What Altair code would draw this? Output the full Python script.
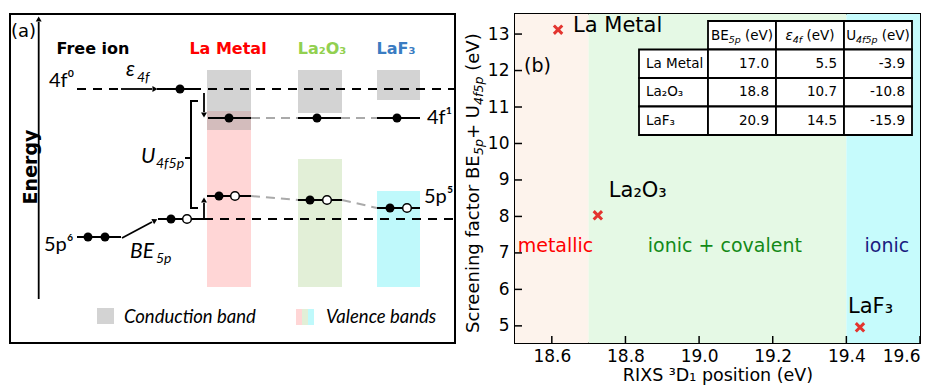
import altair as alt
import pandas as pd

# ---------------- data ----------------
materials = ["La Metal", "La₂O₃", "LaF₃"]
rixs_3d1 = [18.617, 18.725, 19.437]          # RIXS 3D1 position (eV)
screening = [13.12, 8.03, 4.96]              # BE5p + U4f5p (eV)
be_5p = ["17.0", "18.8", "20.9"]
eps_4f = ["5.5", "10.7", "14.5"]
u_4f5p = ["-3.9", "-10.8", "-15.9"]
regions = ["metallic", "ionic + covalent", "ionic"]
region_lo = [18.5, 18.7, 19.4]
region_hi = [18.7, 19.4, 19.6]
x_ticks = [18.6, 18.8, 19.0, 19.2, 19.4, 19.6]
y_ticks = [5, 6, 7, 8, 9, 10, 11, 12, 13]

# ---------------- style / layout ----------------
region_fill = ["#fdf3ec", "#e5f9e5", "#c6fbfc"]
region_text_color = ["#ff0000", "#138a17", "#1a1a80"]
region_text_x = [18.61, 19.07, 19.51]
region_text_y = [7.2, 7.2, 7.2]
label_offsets = [(15, -4, "left"), (11, -24, "left"), (-12, -20, "left")]
MARK_RED = "#e3342f"
DV = "DejaVu Sans"

# DejaVu Sans advance widths (em)
W = {' ': 0.318, '(': 0.390, ')': 0.390, '+': 0.838, '-': 0.361, '.': 0.318,
     'B': 0.686, 'E': 0.632, 'S': 0.635, 'U': 0.732, 'V': 0.684,
     'a': 0.613, 'c': 0.550, 'e': 0.615, 'f': 0.352, 'g': 0.635, 'i': 0.278,
     'n': 0.634, 'o': 0.612, 'p': 0.635, 'r': 0.411, 't': 0.392, 'ε': 0.53}
for d in "0123456789":
    W[d] = 0.636


def tw(s, size):
    return sum(W.get(ch, 0.6) for ch in s) * size


def layout_pieces(parts):
    """parts: (text, size, italic, shift) -> list with running offset"""
    out, pos = [], 0.0
    for text, size, italic, shift in parts:
        lead = len(text) - len(text.lstrip(' '))
        pos += lead * W[' '] * size
        t = text.strip(' ')
        out.append((t, size, italic, shift, pos))
        pos += tw(t, size)
    return out, pos


def txt(s, x, y, **kw):
    return alt.Chart(pd.DataFrame({"t": [s]})).mark_text(**kw).encode(
        text="t:N", x=alt.value(x), y=alt.value(y))


def box(x0, x1, y0, y1, **kw):
    return alt.Chart(pd.DataFrame({"d": [0]})).mark_rect(**kw).encode(
        x=alt.value(x0), x2=alt.value(x1), y=alt.value(y0), y2=alt.value(y1))


# =============== right panel ===============
RW, RH = 405, 329
xs = alt.Scale(domain=[18.5, 19.6], nice=False, zero=False)
ys = alt.Scale(domain=[4.53, 13.55], nice=False, zero=False)
xaxis = alt.Axis(values=x_ticks, format=".1f", title="RIXS ³D₁ position (eV)",
                 domain=False, ticks=False, grid=False, labelFontSize=17, labelFont=DV,
                 labelColor="black", labelPadding=5, titleFontSize=17.5, titleFont=DV,
                 titleFontWeight="normal", titleColor="black", titlePadding=2)
yaxis = alt.Axis(values=y_ticks, title="", domain=False, ticks=False, grid=False,
                 labelFontSize=17, labelFont=DV, labelColor="black", labelPadding=6)


def XF(f):
    return alt.X(f, type="quantitative", scale=xs, axis=xaxis)


def YF(f):
    return alt.Y(f, type="quantitative", scale=ys, axis=yaxis)


reg_df = pd.DataFrame({"lo": region_lo, "hi": region_hi, "fill": region_fill,
                       "name": regions, "tx": region_text_x, "ty": region_text_y,
                       "tc": region_text_color})
bg = alt.Chart(reg_df).mark_rect().encode(
    x=XF("lo"), x2="hi", y=alt.value(0), y2=alt.value(RH),
    color=alt.Color("fill:N", scale=None))

reg_txt = alt.Chart(reg_df).mark_text(fontSize=19, font=DV, baseline="middle").encode(
    x=XF("tx"), y=YF("ty"), text="name:N", color=alt.Color("tc:N", scale=None))

pts_df = pd.DataFrame({"x": rixs_3d1, "s": screening, "m": materials})
pts = alt.Chart(pts_df).mark_point(
    shape="M-1,-1L1,1M-1,1L1,-1", filled=False, color=MARK_RED,
    strokeWidth=3, size=70, opacity=1).encode(x=XF("x"), y=YF("s"))

pt_labels = []
for i, (dx, dy, al) in enumerate(label_offsets):
    pt_labels.append(alt.Chart(pts_df.iloc[[i]]).mark_text(
        dx=dx, dy=dy, align=al, baseline="middle", fontSize=21, font=DV,
        color="black").encode(x=XF("x"), y=YF("s"), text="m:N"))

xt = alt.Chart(pd.DataFrame({"t": x_ticks})).mark_rule(color="black", strokeWidth=1.5).encode(
    x=XF("t"), y=alt.value(RH), y2=alt.value(RH - 7))
yt = alt.Chart(pd.DataFrame({"t": y_ticks})).mark_rule(color="black", strokeWidth=1.5).encode(
    y=YF("t"), x=alt.value(0), x2=alt.value(7))

# table
col_x = [124, 193, 261, 329, 397]
row_y = [7, 35.5, 64, 92.5, 121]
table_layers = []
for r in range(4):
    for c in range(4):
        if r == 0 and c == 0:
            continue
        table_layers.append(box(col_x[c], col_x[c + 1], row_y[r], row_y[r + 1],
                                fill="white", stroke="black", strokeWidth=1.8))
TF = 13.5
TS = 9.5
for r in range(3):
    yc = (row_y[r + 1] + row_y[r + 2]) / 2
    table_layers.append(txt(materials[r], col_x[0] + 7, yc, align="left",
                            baseline="middle", fontSize=TF, font=DV, color="black"))
    for c, vals in enumerate([be_5p, eps_4f, u_4f5p]):
        table_layers.append(txt(vals[r], col_x[c + 2] - 7, yc, align="right",
                                baseline="middle", fontSize=TF, font=DV, color="black"))
headers = [
    [("BE", TF, False, 0), ("5p", TS, True, 3), (" (eV)", TF, False, 0)],
    [("ε", TF, True, 0), ("4f", TS, True, 3), (" (eV)", TF, False, 0)],
    [("U", TF, False, 0), ("4f5p", TS, True, 3), (" (eV)", TF, False, 0)],
]
hb = (row_y[0] + row_y[1]) / 2 + 0.36 * TF
for c, parts in enumerate(headers):
    pcs, total = layout_pieces(parts)
    x0 = (col_x[c + 1] + col_x[c + 2]) / 2 - total / 2
    for t, size, it, shift, pos in pcs:
        table_layers.append(txt(t, x0 + pos, hb + shift, align="left",
                                baseline="alphabetic", fontSize=size, font=DV,
                                fontStyle="italic" if it else "normal", color="black"))

# y title built from pieces (rotated)
ytitle_parts = [("Screening factor BE", 18, False, 0), ("5p", 12.6, True, 4),
                ("+ U", 18, False, 0), ("4f5p", 12.6, True, 4), (" (eV)", 18, False, 0)]
pcs, total = layout_pieces(ytitle_parts)
ytitle_layers = []
for t, size, it, shift, pos in pcs:
    ytitle_layers.append(txt(t, -36 + shift, 319 - pos, align="left", baseline="alphabetic",
                             angle=270, fontSize=size, font=DV,
                             fontStyle="italic" if it else "normal", color="black"))

b_label = txt("(b)", 9, 52, align="left", baseline="middle", fontSize=19, font=DV, color="black")

right = alt.layer(bg, reg_txt, xt, yt, *table_layers, pts, *pt_labels,
                  *ytitle_layers, b_label).properties(width=RW, height=RH)

# =============== left panel (schematic, pixel units) ===============
LW, LH = 445, 329


def P(f):
    return alt.X(f, type="quantitative", scale=None, axis=None)


def Q(f):
    return alt.Y(f, type="quantitative", scale=None, axis=None)


band_x0 = [197, 288, 367]
band_x1 = [241, 332, 410]
cb_top = [56, 56, 56]
cb_bot = [116, 99, 86]
vb_top = [97, 145, 177]
vb_bot = [273, 273, 273]
vb_color = ["#ffd6d6", "#e2efd7", "#bff9fb"]

vb = alt.Chart(pd.DataFrame({"x": band_x0, "x2": band_x1, "y": vb_top, "y2": vb_bot,
                             "c": vb_color})).mark_rect().encode(
    x=P("x"), x2="x2", y=Q("y"), y2="y2", color=alt.Color("c:N", scale=None))
cb = alt.Chart(pd.DataFrame({"x": band_x0, "x2": band_x1, "y": cb_top, "y2": cb_bot})).mark_rect(
    color="#9e9e9e", opacity=0.45).encode(x=P("x"), x2="x2", y=Q("y"), y2="y2")


def segs(rows):
    return pd.DataFrame(rows, columns=["x", "y", "x2", "y2"])


def rules(rows, **kw):
    return alt.Chart(segs(rows)).mark_rule(**kw).encode(x=P("x"), y=Q("y"), x2="x2", y2="y2")


dashed_black = rules([(67, 75, 110, 75), (198, 75, 444, 75), (194, 205, 444, 205)],
                     color="black", strokeWidth=2.2, strokeDash=[9, 7])
solid_levels = rules([(147, 75, 191, 75), (198, 104, 241, 104), (288, 104, 331, 104),
                      (367, 104, 410, 104), (197, 182, 241, 182), (288, 186, 332, 186),
                      (367, 194, 410, 194), (148, 205, 194, 205), (67, 223, 111, 223)],
                     color="black", strokeWidth=2.2)
gray_dash = rules([(241, 104, 288, 104), (331, 104, 367, 104), (241, 182, 288, 186),
                   (332, 186, 367, 194)], color="#aaaaaa", strokeWidth=2, strokeDash=[9, 6])
arrows = rules([(111, 75, 142, 75), (112, 224, 142, 208), (28.7, 285, 28.7, 8),
                (194, 79, 194, 98), (194, 205, 194, 189)], color="black", strokeWidth=1.8)
bracket = rules([(181, 87, 181, 194), (180, 87, 188, 87), (180, 194, 188, 194),
                 (175, 144, 181, 144)], color="black", strokeWidth=2)
heads = alt.Chart(pd.DataFrame({
    "x": [145, 145, 28.7, 194, 194], "y": [75, 206.5, 5, 101, 186],
    "s": ["triangle-right", "triangle-right", "triangle-up", "triangle-down", "triangle-up"],
    "a": [0, 332, 0, 0, 0]})).mark_point(filled=True, color="black", size=35, opacity=1).encode(
    x=P("x"), y=Q("y"), shape=alt.Shape("s:N", scale=None), angle=alt.Angle("a:Q", scale=None))
full_dots = alt.Chart(pd.DataFrame({
    "x": [170, 219, 307, 387, 209, 300, 380, 161, 78, 95],
    "y": [75, 104, 104, 104, 182, 186, 194, 205, 223, 223]})).mark_circle(
    color="black", size=80, opacity=1).encode(x=P("x"), y=Q("y"))
open_dots = alt.Chart(pd.DataFrame({
    "x": [225, 317, 397, 177], "y": [182, 186, 194, 205]})).mark_circle(
    fill="white", stroke="black", strokeWidth=1.5, size=75, opacity=1).encode(x=P("x"), y=Q("y"))

leg = alt.Chart(pd.DataFrame({
    "x": [87, 286, 292, 298], "x2": [104, 292, 298, 304], "y": [294, 295, 295, 295],
    "y2": [310, 311, 311, 311], "c": ["#d3d3d3", "#ffd6d6", "#e2efd7", "#bff9fb"]})).mark_rect().encode(
    x=P("x"), x2="x2", y=Q("y"), y2="y2", color=alt.Color("c:N", scale=None))

LA = "Lato"
ltexts = [
    txt("(a)", 1, 18, align="left", baseline="middle", fontSize=18, font=DV, color="black"),
    txt("Energy", 21, 153, align="center", baseline="middle", angle=270, fontSize=19,
        font=DV, fontWeight="bold", color="black"),
    txt("Free ion", 83, 35, align="center", baseline="middle", fontSize=16, font=DV,
        fontWeight="bold", color="black"),
    txt("La Metal", 218, 35, align="center", baseline="middle", fontSize=16, font=DV,
        fontWeight="bold", color="#ff0000"),
    txt("La₂O₃", 312, 35, align="center", baseline="middle", fontSize=16, font=DV,
        fontWeight="bold", color="#92d050"),
    txt("LaF₃", 386, 35, align="center", baseline="middle", fontSize=16, font=DV,
        fontWeight="bold", color="#3a7cc2"),
    txt("4f⁰", 39, 67, align="left", baseline="middle", fontSize=20, font=LA, color="black"),
    txt("4f¹", 417, 104, align="left", baseline="middle", fontSize=20, font=LA, color="black"),
    txt("5p⁵", 414, 183, align="left", baseline="middle", fontSize=20, font=LA, color="black"),
    txt("5p⁶", 34, 231, align="left", baseline="middle", fontSize=20, font=LA, color="black"),
    txt("ε", 116, 62, align="left", baseline="alphabetic", fontSize=21, font=LA,
        fontStyle="italic", color="black"),
    txt("4f", 127, 68, align="left", baseline="alphabetic", fontSize=14, font=LA,
        fontStyle="italic", color="black"),
    txt("U", 131, 149, align="left", baseline="alphabetic", fontSize=21, font=LA,
        fontStyle="italic", color="black"),
    txt("4f5p", 146, 154, align="left", baseline="alphabetic", fontSize=14, font=LA,
        fontStyle="italic", color="black"),
    txt("BE", 120, 244, align="left", baseline="alphabetic", fontSize=21, font=LA,
        fontStyle="italic", color="black"),
    txt("5p", 146, 249, align="left", baseline="alphabetic", fontSize=14, font=LA,
        fontStyle="italic", color="black"),
    txt("Conduction band", 114, 303, align="left", baseline="middle", fontSize=18.5, font=LA,
        fontStyle="italic", color="black"),
    txt("Valence bands", 316, 303, align="left", baseline="middle", fontSize=18.5, font=LA,
        fontStyle="italic", color="black"),
]

left = alt.layer(vb, cb, dashed_black, gray_dash, solid_levels, arrows, bracket, heads,
                 full_dots, open_dots, leg, *ltexts).properties(width=LW, height=LH)

chart = alt.hconcat(left, right, spacing=7).properties(
    padding={"left": 1, "top": 5, "right": 5, "bottom": 0}
).configure_view(stroke="black", strokeWidth=2)

chart.save("out.html", embed_options={"renderer": "svg", "actions": False})
